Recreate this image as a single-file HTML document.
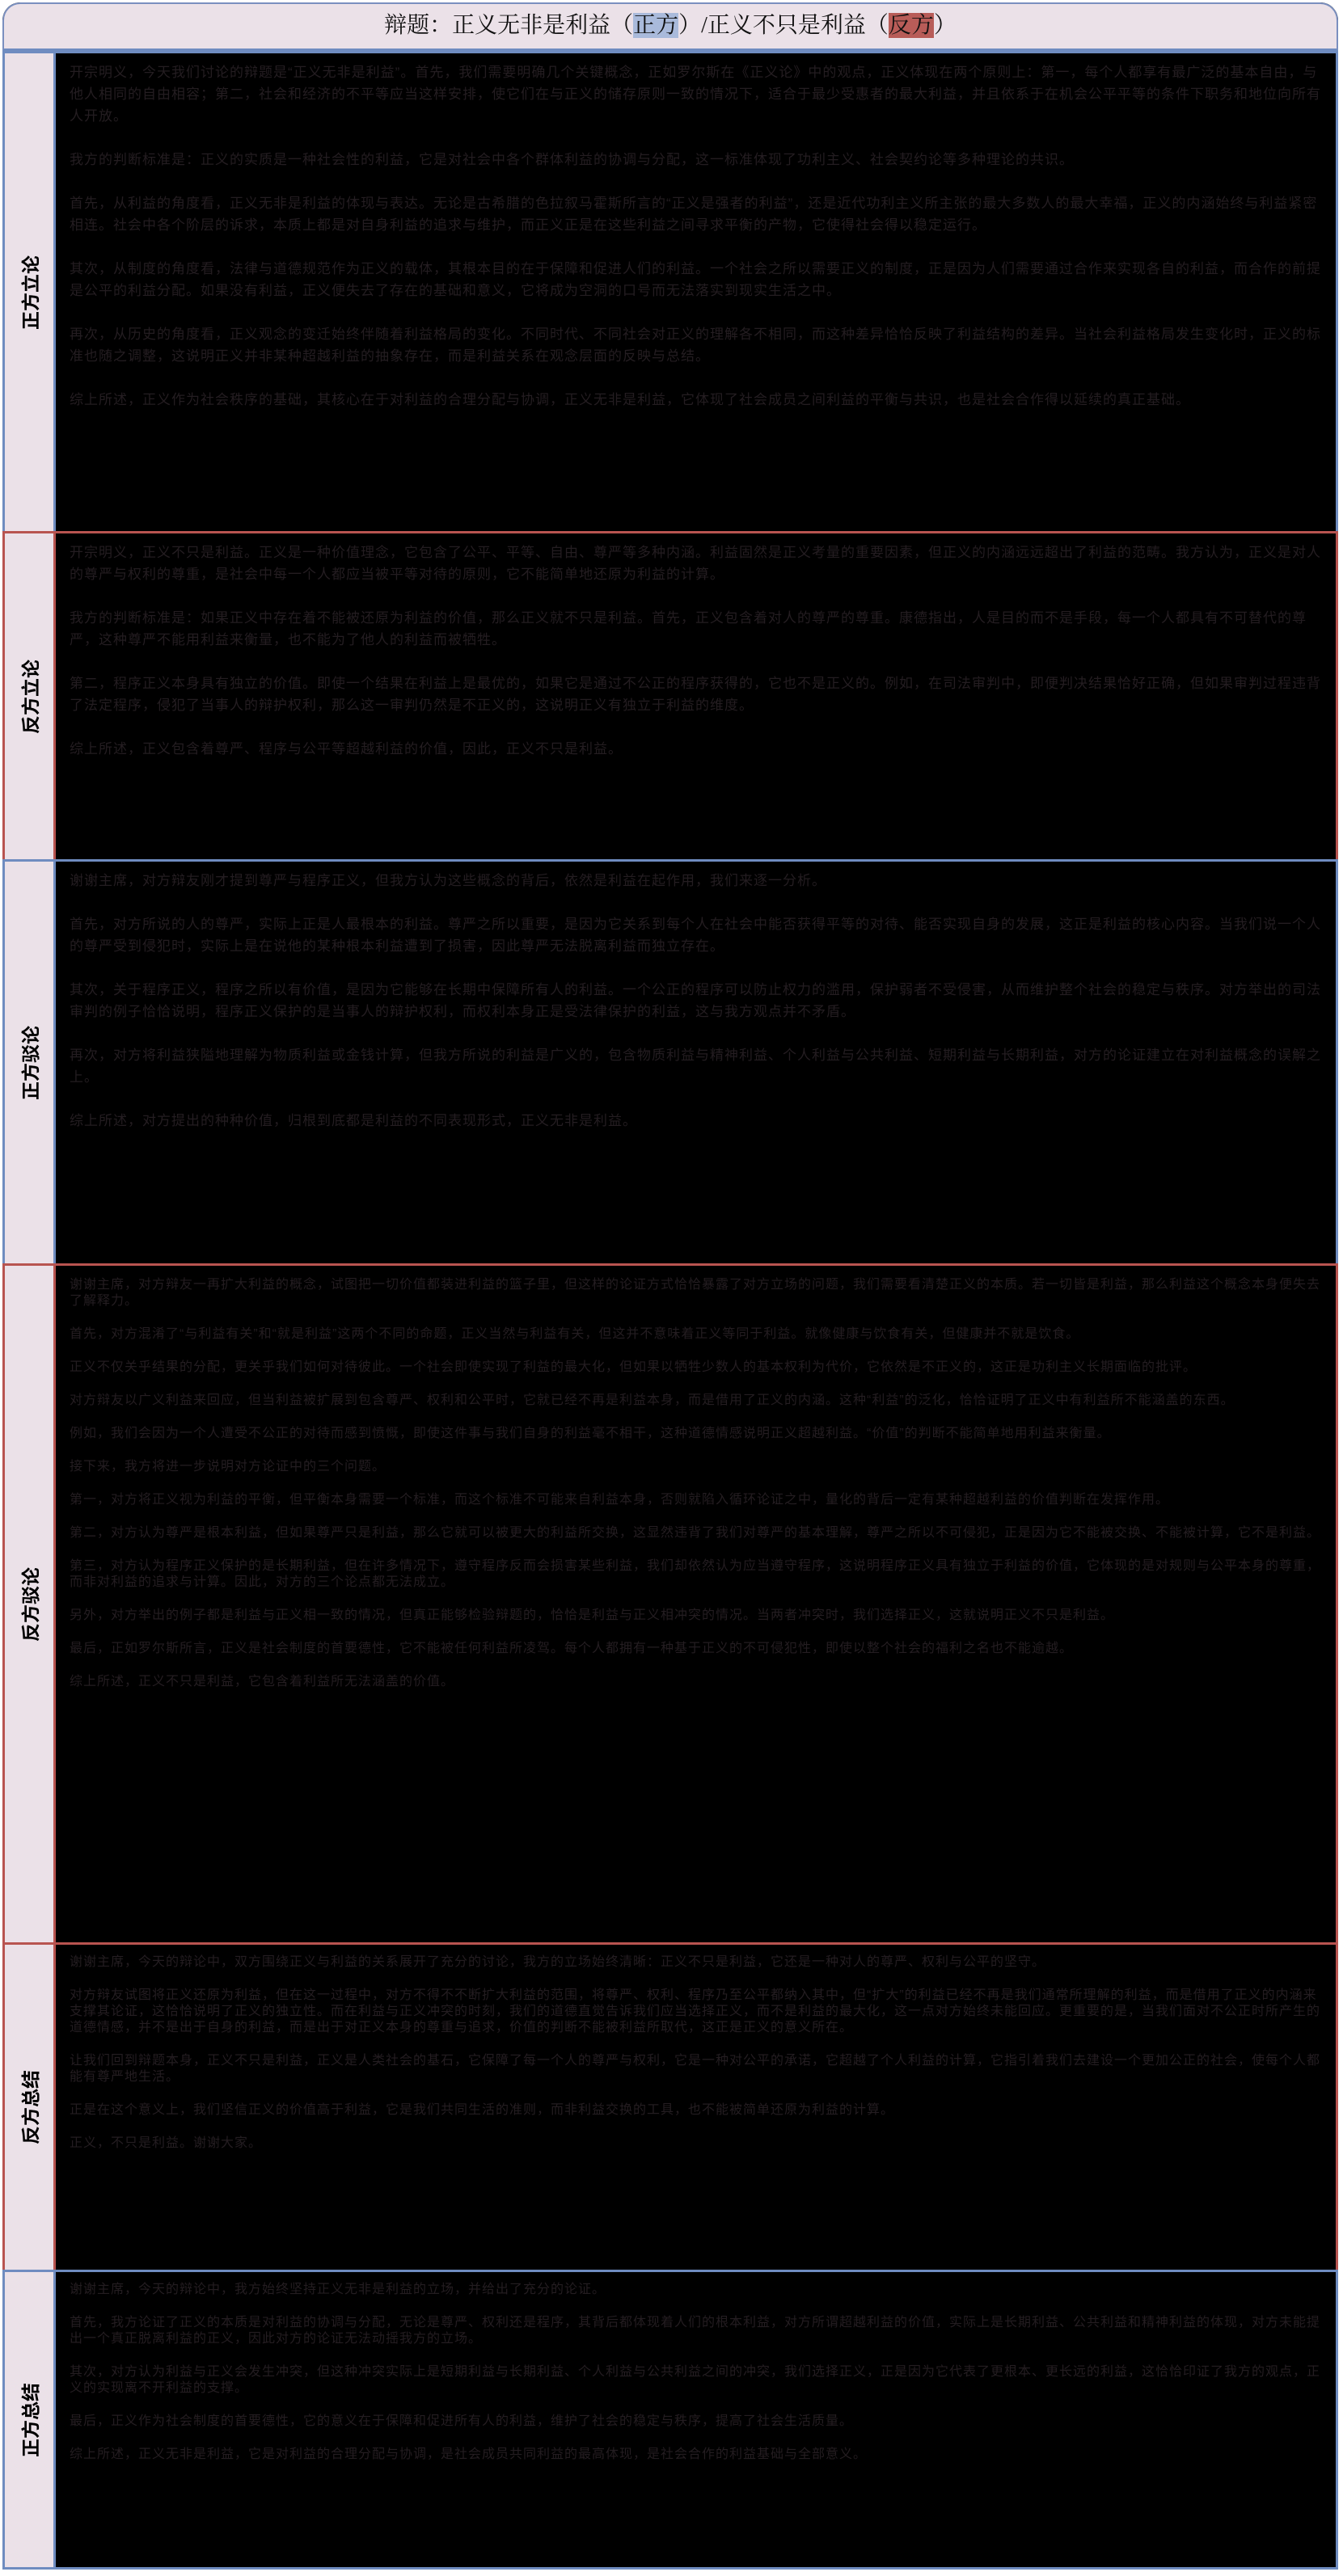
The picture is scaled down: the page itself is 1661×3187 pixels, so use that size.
<!DOCTYPE html>
<html><head><meta charset="utf-8">
<style>
html,body{margin:0;padding:0;background:#fff;}
body{width:1661px;height:3187px;position:relative;font-family:"Liberation Sans","Noto Sans CJK SC",sans-serif;overflow:hidden;}
#wrap{position:absolute;left:3px;top:3px;width:1652px;height:3176px;background:#000;border-radius:22px 22px 0 0;overflow:hidden;}
#hdr{position:absolute;left:0;top:0;width:1652px;height:60px;background:#ebe1e8;border:2px solid #7a8fbf;border-bottom:3px solid #6f8cc0;border-radius:22px 22px 0 0;box-sizing:border-box;text-align:center;font-family:"Liberation Serif","Noto Serif CJK SC",serif;font-size:28px;line-height:54px;color:#111;}
.hl-b{background:#a9badb;}
.hl-r{background:#b85c58;}
.sec{position:absolute;left:0;width:1652px;box-sizing:border-box;border-top:3px solid;border-left:3px solid;border-right:3px solid;}
.lab{position:absolute;left:0;top:0;bottom:0;width:60px;background:#ebe1e8;border-right:3px solid;}
.lab span{position:absolute;left:50%;top:50%;transform:translate(-50%,-50%) rotate(-90deg);white-space:nowrap;font-weight:bold;font-size:23px;color:#000;}
.txt{position:absolute;left:80px;right:14px;top:10px;color:#241d21;font-size:17px;letter-spacing:1px;}
.txt p{margin:0 0 27px 0;}
.b{border-color:#6f8cc0;} .b .lab{border-color:#6f8cc0;}
.r{border-color:#b85450;} .r .lab{border-color:#b85450;}
.lh27{line-height:27px;} .lh20{line-height:20px;font-size:16px;}
.lh20 p{margin-bottom:21px;}
</style></head><body>
<div id="wrap">
<div id="hdr">辩题：正义无非是利益（<span class="hl-b">正方</span>）/正义不只是利益（<span class="hl-r">反方</span>）</div>

<div class="sec b" style="top:60px;height:594px;">
<div class="lab"><span>正方立论</span></div>
<div class="txt lh27">
<p>开宗明义，今天我们讨论的辩题是“正义无非是利益”。首先，我们需要明确几个关键概念，正如罗尔斯在《正义论》中的观点，正义体现在两个原则上：第一，每个人都享有最广泛的基本自由，与他人相同的自由相容；第二，社会和经济的不平等应当这样安排，使它们在与正义的储存原则一致的情况下，适合于最少受惠者的最大利益，并且依系于在机会公平平等的条件下职务和地位向所有人开放。</p>
<p>我方的判断标准是：正义的实质是一种社会性的利益，它是对社会中各个群体利益的协调与分配，这一标准体现了功利主义、社会契约论等多种理论的共识。</p>
<p>首先，从利益的角度看，正义无非是利益的体现与表达。无论是古希腊的色拉叙马霍斯所言的“正义是强者的利益”，还是近代功利主义所主张的最大多数人的最大幸福，正义的内涵始终与利益紧密相连。社会中各个阶层的诉求，本质上都是对自身利益的追求与维护，而正义正是在这些利益之间寻求平衡的产物，它使得社会得以稳定运行。</p>
<p>其次，从制度的角度看，法律与道德规范作为正义的载体，其根本目的在于保障和促进人们的利益。一个社会之所以需要正义的制度，正是因为人们需要通过合作来实现各自的利益，而合作的前提是公平的利益分配。如果没有利益，正义便失去了存在的基础和意义，它将成为空洞的口号而无法落实到现实生活之中。</p>
<p>再次，从历史的角度看，正义观念的变迁始终伴随着利益格局的变化。不同时代、不同社会对正义的理解各不相同，而这种差异恰恰反映了利益结构的差异。当社会利益格局发生变化时，正义的标准也随之调整，这说明正义并非某种超越利益的抽象存在，而是利益关系在观念层面的反映与总结。</p>
<p>综上所述，正义作为社会秩序的基础，其核心在于对利益的合理分配与协调，正义无非是利益，它体现了社会成员之间利益的平衡与共识，也是社会合作得以延续的真正基础。</p>
</div></div>

<div class="sec r" style="top:654px;height:406px;">
<div class="lab"><span>反方立论</span></div>
<div class="txt lh27">
<p>开宗明义，正义不只是利益。正义是一种价值理念，它包含了公平、平等、自由、尊严等多种内涵。利益固然是正义考量的重要因素，但正义的内涵远远超出了利益的范畴。我方认为，正义是对人的尊严与权利的尊重，是社会中每一个人都应当被平等对待的原则，它不能简单地还原为利益的计算。</p>
<p>我方的判断标准是：如果正义中存在着不能被还原为利益的价值，那么正义就不只是利益。首先，正义包含着对人的尊严的尊重。康德指出，人是目的而不是手段，每一个人都具有不可替代的尊严，这种尊严不能用利益来衡量，也不能为了他人的利益而被牺牲。</p>
<p>第二，程序正义本身具有独立的价值。即使一个结果在利益上是最优的，如果它是通过不公正的程序获得的，它也不是正义的。例如，在司法审判中，即便判决结果恰好正确，但如果审判过程违背了法定程序，侵犯了当事人的辩护权利，那么这一审判仍然是不正义的，这说明正义有独立于利益的维度。</p>
<p>综上所述，正义包含着尊严、程序与公平等超越利益的价值，因此，正义不只是利益。</p>
</div></div>

<div class="sec b" style="top:1060px;height:500px;">
<div class="lab"><span>正方驳论</span></div>
<div class="txt lh27">
<p>谢谢主席，对方辩友刚才提到尊严与程序正义，但我方认为这些概念的背后，依然是利益在起作用，我们来逐一分析。</p>
<p>首先，对方所说的人的尊严，实际上正是人最根本的利益。尊严之所以重要，是因为它关系到每个人在社会中能否获得平等的对待、能否实现自身的发展，这正是利益的核心内容。当我们说一个人的尊严受到侵犯时，实际上是在说他的某种根本利益遭到了损害，因此尊严无法脱离利益而独立存在。</p>
<p>其次，关于程序正义，程序之所以有价值，是因为它能够在长期中保障所有人的利益。一个公正的程序可以防止权力的滥用，保护弱者不受侵害，从而维护整个社会的稳定与秩序。对方举出的司法审判的例子恰恰说明，程序正义保护的是当事人的辩护权利，而权利本身正是受法律保护的利益，这与我方观点并不矛盾。</p>
<p>再次，对方将利益狭隘地理解为物质利益或金钱计算，但我方所说的利益是广义的，包含物质利益与精神利益、个人利益与公共利益、短期利益与长期利益，对方的论证建立在对利益概念的误解之上。</p>
<p>综上所述，对方提出的种种价值，归根到底都是利益的不同表现形式，正义无非是利益。</p>
</div></div>

<div class="sec r" style="top:1560px;height:840px;">
<div class="lab"><span>反方驳论</span></div>
<div class="txt lh20" style="top:14px;">
<p>谢谢主席，对方辩友一再扩大利益的概念，试图把一切价值都装进利益的篮子里，但这样的论证方式恰恰暴露了对方立场的问题，我们需要看清楚正义的本质。若一切皆是利益，那么利益这个概念本身便失去了解释力。</p>
<p>首先，对方混淆了“与利益有关”和“就是利益”这两个不同的命题，正义当然与利益有关，但这并不意味着正义等同于利益。就像健康与饮食有关，但健康并不就是饮食。</p>
<p>正义不仅关乎结果的分配，更关乎我们如何对待彼此。一个社会即使实现了利益的最大化，但如果以牺牲少数人的基本权利为代价，它依然是不正义的，这正是功利主义长期面临的批评。</p>
<p>对方辩友以广义利益来回应，但当利益被扩展到包含尊严、权利和公平时，它就已经不再是利益本身，而是借用了正义的内涵。这种“利益”的泛化，恰恰证明了正义中有利益所不能涵盖的东西。</p>
<p>例如，我们会因为一个人遭受不公正的对待而感到愤慨，即使这件事与我们自身的利益毫不相干，这种道德情感说明正义超越利益。“价值”的判断不能简单地用利益来衡量。</p>
<p>接下来，我方将进一步说明对方论证中的三个问题。</p>
<p>第一，对方将正义视为利益的平衡，但平衡本身需要一个标准，而这个标准不可能来自利益本身，否则就陷入循环论证之中，量化的背后一定有某种超越利益的价值判断在发挥作用。</p>
<p>第二，对方认为尊严是根本利益，但如果尊严只是利益，那么它就可以被更大的利益所交换，这显然违背了我们对尊严的基本理解，尊严之所以不可侵犯，正是因为它不能被交换、不能被计算，它不是利益。</p>
<p>第三，对方认为程序正义保护的是长期利益，但在许多情况下，遵守程序反而会损害某些利益，我们却依然认为应当遵守程序，这说明程序正义具有独立于利益的价值，它体现的是对规则与公平本身的尊重，而非对利益的追求与计算。因此，对方的三个论点都无法成立。</p>
<p>另外，对方举出的例子都是利益与正义相一致的情况，但真正能够检验辩题的，恰恰是利益与正义相冲突的情况。当两者冲突时，我们选择正义，这就说明正义不只是利益。</p>
<p>最后，正如罗尔斯所言，正义是社会制度的首要德性，它不能被任何利益所凌驾。每个人都拥有一种基于正义的不可侵犯性，即使以整个社会的福利之名也不能逾越。</p>
<p>综上所述，正义不只是利益，它包含着利益所无法涵盖的价值。</p>
</div></div>

<div class="sec r" style="top:2400px;height:405px;">
<div class="lab"><span>反方总结</span></div>
<div class="txt lh20" style="top:12px;">
<p>谢谢主席，今天的辩论中，双方围绕正义与利益的关系展开了充分的讨论，我方的立场始终清晰：正义不只是利益，它还是一种对人的尊严、权利与公平的坚守。</p>
<p>对方辩友试图将正义还原为利益，但在这一过程中，对方不得不不断扩大利益的范围，将尊严、权利、程序乃至公平都纳入其中，但“扩大”的利益已经不再是我们通常所理解的利益，而是借用了正义的内涵来支撑其论证，这恰恰说明了正义的独立性。而在利益与正义冲突的时刻，我们的道德直觉告诉我们应当选择正义，而不是利益的最大化，这一点对方始终未能回应。更重要的是，当我们面对不公正时所产生的道德情感，并不是出于自身的利益，而是出于对正义本身的尊重与追求，价值的判断不能被利益所取代，这正是正义的意义所在。</p>
<p>让我们回到辩题本身，正义不只是利益，正义是人类社会的基石，它保障了每一个人的尊严与权利，它是一种对公平的承诺，它超越了个人利益的计算，它指引着我们去建设一个更加公正的社会，使每个人都能有尊严地生活。</p>
<p>正是在这个意义上，我们坚信正义的价值高于利益，它是我们共同生活的准则，而非利益交换的工具，也不能被简单还原为利益的计算。</p>
<p>正义，不只是利益。谢谢大家。</p>
</div></div>

<div class="sec b" style="top:2805px;height:371px;border-bottom:3px solid #6f8cc0;">
<div class="lab"><span>正方总结</span></div>
<div class="txt lh20" style="top:12px;">
<p>谢谢主席，今天的辩论中，我方始终坚持正义无非是利益的立场，并给出了充分的论证。</p>
<p>首先，我方论证了正义的本质是对利益的协调与分配，无论是尊严、权利还是程序，其背后都体现着人们的根本利益，对方所谓超越利益的价值，实际上是长期利益、公共利益和精神利益的体现，对方未能提出一个真正脱离利益的正义，因此对方的论证无法动摇我方的立场。</p>
<p>其次，对方认为利益与正义会发生冲突，但这种冲突实际上是短期利益与长期利益、个人利益与公共利益之间的冲突，我们选择正义，正是因为它代表了更根本、更长远的利益，这恰恰印证了我方的观点，正义的实现离不开利益的支撑。</p>
<p>最后，正义作为社会制度的首要德性，它的意义在于保障和促进所有人的利益，维护了社会的稳定与秩序，提高了社会生活质量。</p>
<p>综上所述，正义无非是利益，它是对利益的合理分配与协调，是社会成员共同利益的最高体现，是社会合作的利益基础与全部意义。</p>
</div></div>
</div>
</body></html>
